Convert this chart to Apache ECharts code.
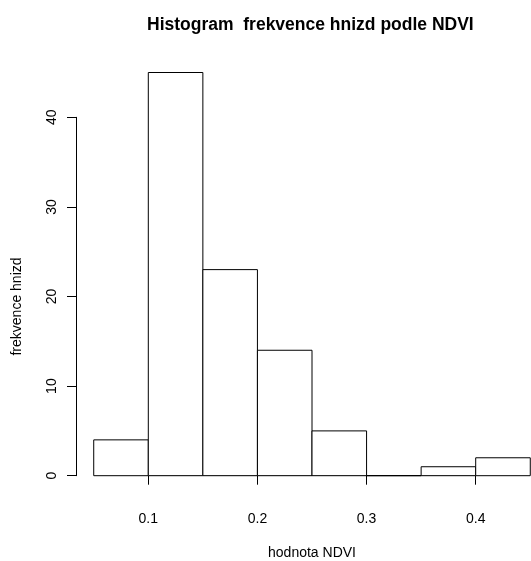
<!DOCTYPE html>
<html><head><meta charset="utf-8">
<script src="https://cdn.jsdelivr.net/npm/echarts@6/dist/echarts.min.js"></script>
<style>html,body{margin:0;padding:0;background:#fff}#c{width:531px;height:561px}</style>
</head><body><div id="c"></div>
<script>
const binStart = [0.05, 0.10, 0.15, 0.20, 0.25, 0.30, 0.35, 0.40];
const binEnd   = [0.10, 0.15, 0.20, 0.25, 0.30, 0.35, 0.40, 0.45];
const counts   = [4, 45, 23, 14, 5, 0, 1, 2];
const xTicks = [0.1, 0.2, 0.3, 0.4];
const yTicks = [0, 10, 20, 30, 40];

const data = counts.map((c, i) => [binStart[i], binEnd[i], c]);
const font = 'Liberation Sans, Arial, sans-serif';
const chart = echarts.init(document.getElementById('c'), null, {renderer: 'canvas'});
chart.setOption({
  animation: false,
  backgroundColor: '#fff',
  title: {
    text: 'Histogram  frekvence hnizd podle NDVI',
    left: 142, top: 11,
    textStyle: {fontFamily: font, fontSize: 17.5, fontWeight: 'bold', color: '#000'}
  },
  grid: {left: 148.3, right: 55.3, top: 117.3, bottom: 85.3, containLabel: false, outerBoundsMode: 'none'},
  xAxis: {
    type: 'value', min: xTicks[0], max: xTicks[xTicks.length - 1], interval: 0.1,
    offset: 15,
    name: 'hodnota NDVI', nameLocation: 'middle', nameGap: 55,
    nameTextStyle: {fontFamily: font, fontSize: 14, color: '#000'},
    axisLine: {show: true, lineStyle: {color: '#000', width: 1}},
    axisTick: {show: true, length: 9, lineStyle: {color: '#000'}},
    axisLabel: {margin: 21, fontFamily: font, fontSize: 14, color: '#000',
      formatter: v => (Math.round(v * 10) / 10).toString()},
    splitLine: {show: false}
  },
  yAxis: {
    type: 'value', min: yTicks[0], max: yTicks[yTicks.length - 1], interval: 10,
    offset: 72.3,
    name: 'frekvence hnizd', nameLocation: 'middle', nameGap: 52,
    nameTextStyle: {fontFamily: font, fontSize: 14, color: '#000', padding: [0, 20, 0, 0]},
    axisLine: {show: true, lineStyle: {color: '#000', width: 1}},
    axisTick: {show: true, length: 9, lineStyle: {color: '#000'}},
    axisLabel: {margin: 17, rotate: 90, fontFamily: font, fontSize: 14, color: '#000'},
    splitLine: {show: false}
  },
  series: [{
    type: 'custom',
    clip: false,
    data: data,
    encode: {x: [0, 1], y: 2},
    renderItem: function (params, api) {
      const p0 = api.coord([api.value(0), 0]);
      const p1 = api.coord([api.value(1), api.value(2)]);
      return {
        type: 'rect',
        shape: {x: p0[0], y: p1[1], width: p1[0] - p0[0], height: p0[1] - p1[1]},
        style: {fill: '#fff', stroke: '#000', lineWidth: 1}
      };
    }
  }]
});
</script></body></html>
